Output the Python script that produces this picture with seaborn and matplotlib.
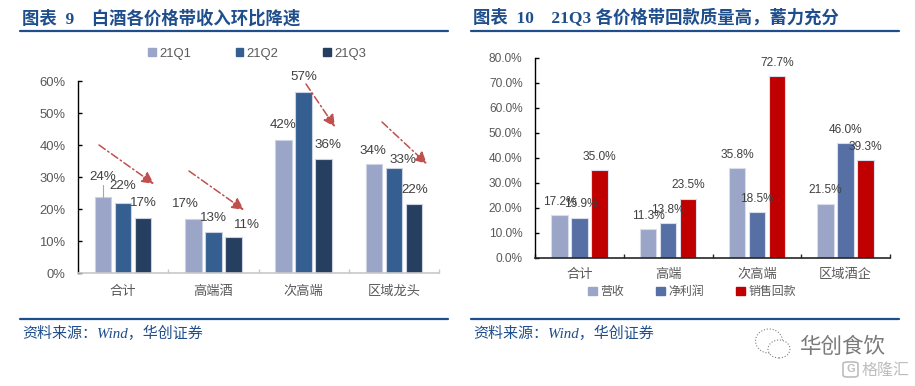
import matplotlib
matplotlib.use("Agg")
import matplotlib.pyplot as plt
import pandas as pd
import seaborn as sns
from matplotlib.lines import Line2D
from matplotlib.patches import Ellipse, FancyBboxPatch, FancyArrowPatch, Rectangle

W, H = 915, 386

left_cats = ["合计", "高端酒", "次高端", "区域龙头"]
left_series = ["21Q1", "21Q2", "21Q3"]
q1_vals = [23.75, 16.9, 41.6, 34.1]
q2_vals = [22.0, 12.8, 56.6, 32.8]
q3_vals = [17.2, 11.25, 35.6, 21.6]
left_colors = ["#9AA5C8", "#355F91", "#263E5F"]

right_cats = ["合计", "高端", "次高端", "区域酒企"]
right_series = ["营收", "净利润", "销售回款"]
rev_vals = [17.2, 11.3, 35.8, 21.5]
profit_vals = [15.9, 13.8, 18.5, 46.0]
cash_vals = [35.0, 23.5, 72.7, 39.3]
right_colors = ["#9AA5C8", "#5670A5", "#C00000"]

# label shifts in pixels from the top centre of each bar, because the labels were moved by hand
left_offsets = [
    [(0, 20), (-8, 15), (0, 15), (-1, 13)],
    [(0, 17), (0, 14), (0, 15), (9, 8)],
    [(0, 15), (14, 12), (4, 14), (1, 14)],
]
right_offsets = [
    [(0, 13), (0, 13), (0, 13), (0, 14)],
    [(1, 14), (0, 13), (0, 13), (0, 13)],
    [(0, 13), (0, 14), (0, 13), (0, 13)],
]

sns.set_theme(style="white")
sans = ["Liberation Sans", "Noto Sans CJK SC"]
serif = ["Liberation Serif", "Noto Sans CJK SC"]
plt.rcParams["font.family"] = sans

fig = plt.figure(figsize=(W / 100, H / 100), dpi=100, facecolor="white")


def fx(x):
    return x / W


def fy(y):
    return 1 - y / H


def make_axes(x0, x1, y_top, y_bottom):
    return fig.add_axes([fx(x0), fy(y_bottom), (x1 - x0) / W, (y_bottom - y_top) / H])


def long_table(cats, series, columns):
    rows = []
    for name, vals in zip(series, columns):
        for c, v in zip(cats, vals):
            rows.append({"cat": c, "series": name, "value": v})
    return pd.DataFrame(rows)


def draw_bars(ax, df, cats, series, colors, edge, width):
    sns.barplot(data=df, x="cat", y="value", hue="series", order=cats, hue_order=series,
                palette=colors, width=width, gap=0.18, dodge=True, legend=False,
                edgecolor=edge, linewidth=0.8, saturation=1, ax=ax, errorbar=None)
    ax.set_xlabel("")
    ax.set_ylabel("")
    ax.set_xlim(-0.5, 3.5)


def add_labels(ax, fmt, offsets, size):
    for cont, offs in zip(ax.containers, offsets):
        for bar, (dx, dy) in zip(cont, offs):
            ax.annotate(fmt % bar.get_height(), (bar.get_x() + bar.get_width() / 2, bar.get_height()),
                        xytext=(dx, dy), textcoords="offset pixels", ha="center", va="center",
                        fontsize=size, color="#404040", annotation_clip=False)


def style_axes(ax, bottom_color, tick_size, cat_size, cat_pad):
    for s in ["top", "right"]:
        ax.spines[s].set_visible(False)
    ax.spines["left"].set_color("black")
    ax.spines["left"].set_linewidth(1.0)
    ax.spines["bottom"].set_color(bottom_color)
    ax.spines["bottom"].set_linewidth(1.2)
    ax.tick_params(axis="y", direction="in", length=3, width=1, color="black", left=True,
                   labelsize=tick_size, labelcolor="#595959", pad=9)
    ax.set_xticks([0.5, 1.5, 2.5, 3.5, -0.5], minor=True)
    ax.tick_params(axis="x", which="major", length=0, labelsize=cat_size, labelcolor="#595959", pad=cat_pad)
    ax.tick_params(axis="x", which="minor", direction="in", length=3, width=1, color=bottom_color, bottom=True)
    plt.setp(ax.get_xticklabels(), va="baseline")


def header(x0, x1, title):
    fig.add_artist(Line2D([fx(x0), fx(x1)], [fy(31), fy(31)], color="#1F4E8C", lw=1.6))
    fig.add_artist(Line2D([fx(x0), fx(x1)], [fy(318.5), fy(318.5)], color="#1F4E8C", lw=1.6))
    fig.text(fx(x0 + 2), fy(18.5), title, fontsize=12.5, fontweight="bold", color="#1F4E8C",
             family=serif, va="center", ha="left")
    fig.text(fx(x0 + 2), fy(333), "资料来源：Wind，华创证券", fontsize=10.8, style="italic",
             color="#1F4E8C", family=serif, va="center", ha="left")


# left chart
ax1 = make_axes(78, 439, 81, 273)
df1 = long_table(left_cats, left_series, [q1_vals, q2_vals, q3_vals])
draw_bars(ax1, df1, left_cats, left_series, left_colors, "#CDD2E2", 0.667)
ax1.set_ylim(0, 60)
ax1.set_yticks([0, 10, 20, 30, 40, 50, 60])
ax1.set_yticklabels([f"{v}%" for v in [0, 10, 20, 30, 40, 50, 60]])
style_axes(ax1, "#C8C8C8", 9.4, 9.5, 16)
add_labels(ax1, "%.0f%%", left_offsets, 9.6)
handles1 = [Rectangle((0, 0), 1, 1, color=c) for c in left_colors]
fig.legend(handles1, left_series, loc="center", bbox_to_anchor=(fx(257), fy(53.5)), ncol=3, frameon=False,
           fontsize=9.4, handlelength=0.6, handleheight=0.6, handletextpad=0.25, columnspacing=3.42,
           labelcolor="#595959")

# leader line from the first label, and the falling trend arrows
fig.add_artist(Line2D([fx(103), fx(103)], [fy(185), fy(197)], color="#A6A6A6", lw=0.8))
for (x0, y0, x1, y1) in [(99, 145, 154, 184), (189, 171, 244, 210), (306, 84, 335, 127), (382, 122, 427, 164)]:
    fig.add_artist(FancyArrowPatch(
        (fx(x0), fy(y0)), (fx(x1), fy(y1)), transform=fig.transFigure, arrowstyle="-|>", mutation_scale=18,
        color="#C0504D", lw=1.1, linestyle=(0, (5, 2, 1, 2)), shrinkA=0, shrinkB=0))

# right chart
ax2 = make_axes(535, 890, 58, 257.7)
df2 = long_table(right_cats, right_series, [rev_vals, profit_vals, cash_vals])
draw_bars(ax2, df2, right_cats, right_series, right_colors, "#DADDEA", 0.675)
ax2.set_ylim(0, 80)
ax2.set_yticks(list(range(0, 81, 10)))
ax2.set_yticklabels([f"{v:.1f}%" for v in range(0, 81, 10)])
style_axes(ax2, "#262626", 8.6, 9.5, 14.5)
add_labels(ax2, "%.1f%%", right_offsets, 8.6)
handles2 = [Rectangle((0, 0), 1, 1, color=c) for c in right_colors]
fig.legend(handles2, right_series, loc="center", bbox_to_anchor=(fx(692), fy(292)), ncol=3, frameon=False,
           fontsize=8.6, handlelength=0.7, handleheight=0.7, handletextpad=0.3, columnspacing=2.7,
           labelcolor="#595959")

header(20, 448, "图表  9    白酒各价格带收入环比降速")
header(471, 899, "图表  10    21Q3 各价格带回款质量高，蓄力充分")

# watermark
for (cx, cy, w, h) in [(769, 341, 27, 24), (779, 349, 22, 18)]:
    fig.add_artist(Ellipse((fx(cx), fy(cy)), w / W, h / H, transform=fig.transFigure,
                           facecolor="white", edgecolor="#808080", lw=0.8, ls=":"))
fig.text(fx(799), fy(347), "华创食饮", fontsize=15.5, color="#7A7A7A", va="center", ha="left",
         family=["Noto Sans CJK SC"])
fig.add_artist(FancyBboxPatch((fx(843), fy(377)), 15 / W, 15 / H, boxstyle="round,pad=0,rounding_size=0.005",
                              transform=fig.transFigure, facecolor="none", edgecolor="#BDBDBD", lw=1.2))
fig.text(fx(850.5), fy(369.5), "G", fontsize=8, fontweight="bold", color="#BDBDBD", va="center", ha="center")
fig.text(fx(861), fy(370), "格隆汇", fontsize=11.5, color="#BDBDBD", va="center", ha="left",
         family=["Noto Sans CJK SC"])

fig.savefig("out.png", dpi=100)
